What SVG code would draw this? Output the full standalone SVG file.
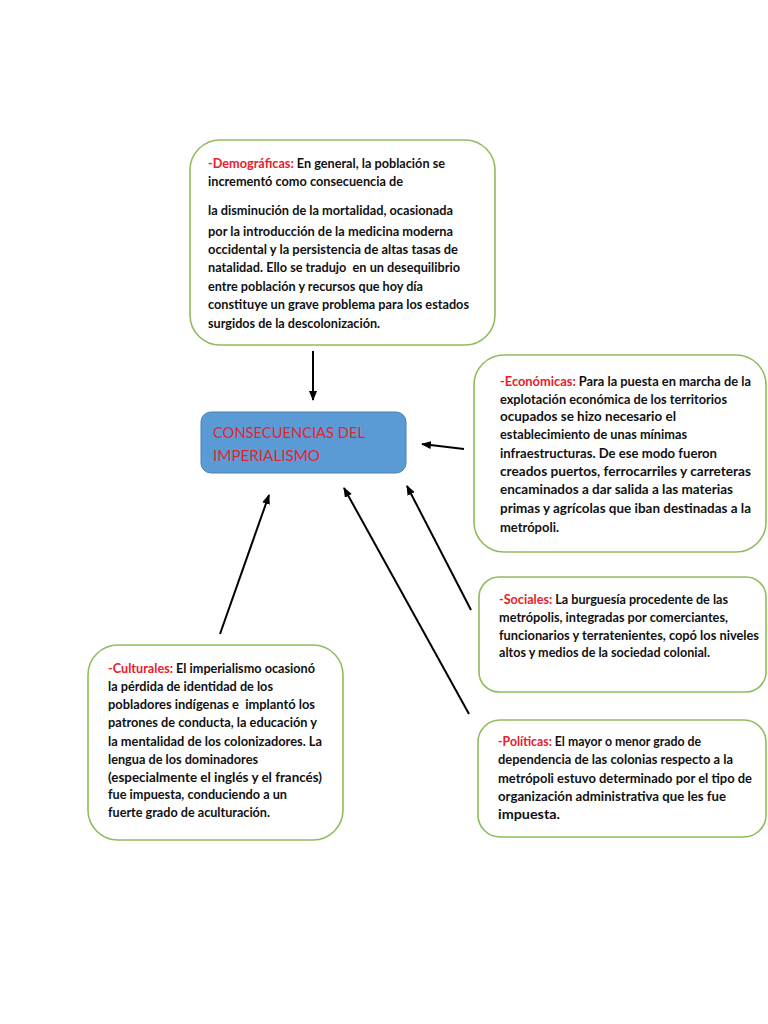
<svg xmlns="http://www.w3.org/2000/svg" width="768" height="1024" viewBox="0 0 768 1024">
<style>
.box{fill:#ffffff;stroke:#8fbc5c;stroke-width:1.6}
.t{font-family:Lato,"Open Sans","Liberation Sans",sans-serif;font-size:13px;font-weight:bold;fill:#111111}
.lab{fill:#e8202a}
.c{stroke:#000000;stroke-width:2;fill:none;marker-end:url(#ah)}
.ct{font-family:Lato,"Open Sans","Liberation Sans",sans-serif;font-size:15px;fill:#e1252f}
</style>
<defs>
<marker id="ah" markerWidth="10" markerHeight="8" refX="9" refY="4" orient="auto" markerUnits="userSpaceOnUse">
<path d="M0,0 L10,4 L0,8 Z" fill="#000000"/>
</marker>
</defs>
<rect width="768" height="1024" fill="#ffffff"/>

<g id="demograficas">
<rect class="box" x="190" y="140" width="305" height="205" rx="30"/>
<text class="t" x="208" y="168" textLength="237" lengthAdjust="spacingAndGlyphs"><tspan class="lab">-Demográficas:</tspan> En general, la población se</text>
<text class="t" x="208" y="186" textLength="195" lengthAdjust="spacingAndGlyphs">incrementó como consecuencia de</text>
<text class="t" x="208" y="215" textLength="245" lengthAdjust="spacingAndGlyphs">la disminución de la mortalidad, ocasionada</text>
<text class="t" x="208" y="236" textLength="245" lengthAdjust="spacingAndGlyphs">por la introducción de la medicina moderna</text>
<text class="t" x="208" y="254" textLength="250" lengthAdjust="spacingAndGlyphs">occidental y la persistencia de altas tasas de</text>
<text class="t" x="208" y="272" textLength="252" lengthAdjust="spacingAndGlyphs" xml:space="preserve">natalidad. Ello se tradujo  en un desequilibrio</text>
<text class="t" x="208" y="291" textLength="215" lengthAdjust="spacingAndGlyphs">entre población y recursos que hoy día</text>
<text class="t" x="208" y="309" textLength="261" lengthAdjust="spacingAndGlyphs">constituye un grave problema para los estados</text>
<text class="t" x="208" y="328" textLength="172" lengthAdjust="spacingAndGlyphs">surgidos de la descolonización.</text>
</g>

<g id="central">
<rect x="201" y="412" width="205" height="61" rx="10" fill="#5b9bd5" stroke="#4a7fb5" stroke-width="1"/>
<text class="ct" x="213" y="438" textLength="152" lengthAdjust="spacingAndGlyphs">CONSECUENCIAS DEL</text>
<text class="ct" x="213" y="461" textLength="107" lengthAdjust="spacingAndGlyphs">IMPERIALISMO</text>
</g>

<g id="economicas">
<rect class="box" x="474" y="355" width="292" height="197" rx="30"/>
<text class="t" x="500" y="386" textLength="251" lengthAdjust="spacingAndGlyphs"><tspan class="lab">-Económicas:</tspan> Para la puesta en marcha de la</text>
<text class="t" x="500" y="404" textLength="227" lengthAdjust="spacingAndGlyphs">explotación económica de los territorios</text>
<text class="t" x="500" y="421" textLength="176" lengthAdjust="spacingAndGlyphs">ocupados se hizo necesario el</text>
<text class="t" x="500" y="439" textLength="187" lengthAdjust="spacingAndGlyphs">establecimiento de unas mínimas</text>
<text class="t" x="500" y="458" textLength="217" lengthAdjust="spacingAndGlyphs">infraestructuras. De ese modo fueron</text>
<text class="t" x="500" y="476" textLength="251" lengthAdjust="spacingAndGlyphs">creados puertos, ferrocarriles y carreteras</text>
<text class="t" x="500" y="494" textLength="233" lengthAdjust="spacingAndGlyphs">encaminados a dar salida a las materias</text>
<text class="t" x="500" y="513" textLength="251" lengthAdjust="spacingAndGlyphs">primas y agrícolas que iban destinadas a la</text>
<text class="t" x="500" y="532" textLength="59" lengthAdjust="spacingAndGlyphs">metrópoli.</text>
</g>

<g id="sociales">
<rect class="box" x="479" y="577" width="287" height="115" rx="20"/>
<text class="t" x="499" y="604" textLength="229" lengthAdjust="spacingAndGlyphs"><tspan class="lab">-Sociales:</tspan> La burguesía procedente de las</text>
<text class="t" x="499" y="622" textLength="229" lengthAdjust="spacingAndGlyphs">metrópolis, integradas por comerciantes,</text>
<text class="t" x="499" y="640" textLength="260" lengthAdjust="spacingAndGlyphs">funcionarios y terratenientes, copó los niveles</text>
<text class="t" x="499" y="657" textLength="211" lengthAdjust="spacingAndGlyphs">altos y medios de la sociedad colonial.</text>
</g>

<g id="politicas">
<rect class="box" x="478" y="720" width="288" height="117" rx="22"/>
<text class="t" x="498" y="746" textLength="203" lengthAdjust="spacingAndGlyphs"><tspan class="lab">-Políticas:</tspan> El mayor o menor grado de</text>
<text class="t" x="498" y="764" textLength="235" lengthAdjust="spacingAndGlyphs">dependencia de las colonias respecto a la</text>
<text class="t" x="498" y="783" textLength="254" lengthAdjust="spacingAndGlyphs">metrópoli estuvo determinado por el tipo de</text>
<text class="t" x="498" y="801" textLength="228" lengthAdjust="spacingAndGlyphs">organización administrativa que les fue</text>
<text class="t" x="498" y="819" textLength="62" lengthAdjust="spacingAndGlyphs">impuesta.</text>
</g>

<g id="culturales">
<rect class="box" x="88" y="645" width="255" height="195" rx="30"/>
<text class="t" x="108" y="673" textLength="207" lengthAdjust="spacingAndGlyphs"><tspan class="lab">-Culturales:</tspan> El imperialismo ocasionó</text>
<text class="t" x="108" y="691" textLength="165" lengthAdjust="spacingAndGlyphs">la pérdida de identidad de los</text>
<text class="t" x="108" y="709" textLength="207" lengthAdjust="spacingAndGlyphs" xml:space="preserve">pobladores indígenas e  implantó los</text>
<text class="t" x="108" y="727" textLength="209" lengthAdjust="spacingAndGlyphs">patrones de conducta, la educación y</text>
<text class="t" x="108" y="746" textLength="214" lengthAdjust="spacingAndGlyphs">la mentalidad de los colonizadores. La</text>
<text class="t" x="108" y="764" textLength="150" lengthAdjust="spacingAndGlyphs">lengua de los dominadores</text>
<text class="t" x="108" y="782" textLength="214" lengthAdjust="spacingAndGlyphs">(especialmente el inglés y el francés)</text>
<text class="t" x="108" y="799" textLength="179" lengthAdjust="spacingAndGlyphs">fue impuesta, conduciendo a un</text>
<text class="t" x="108" y="817" textLength="162" lengthAdjust="spacingAndGlyphs">fuerte grado de aculturación.</text>
</g>

<g id="connectors">
<line class="c" x1="313" y1="351" x2="313" y2="400"/>
<line class="c" x1="464" y1="449" x2="422" y2="444"/>
<line class="c" x1="220" y1="634" x2="269" y2="495"/>
<line class="c" x1="469" y1="714" x2="344" y2="488"/>
<line class="c" x1="471" y1="610" x2="407" y2="486"/>
</g>
</svg>
